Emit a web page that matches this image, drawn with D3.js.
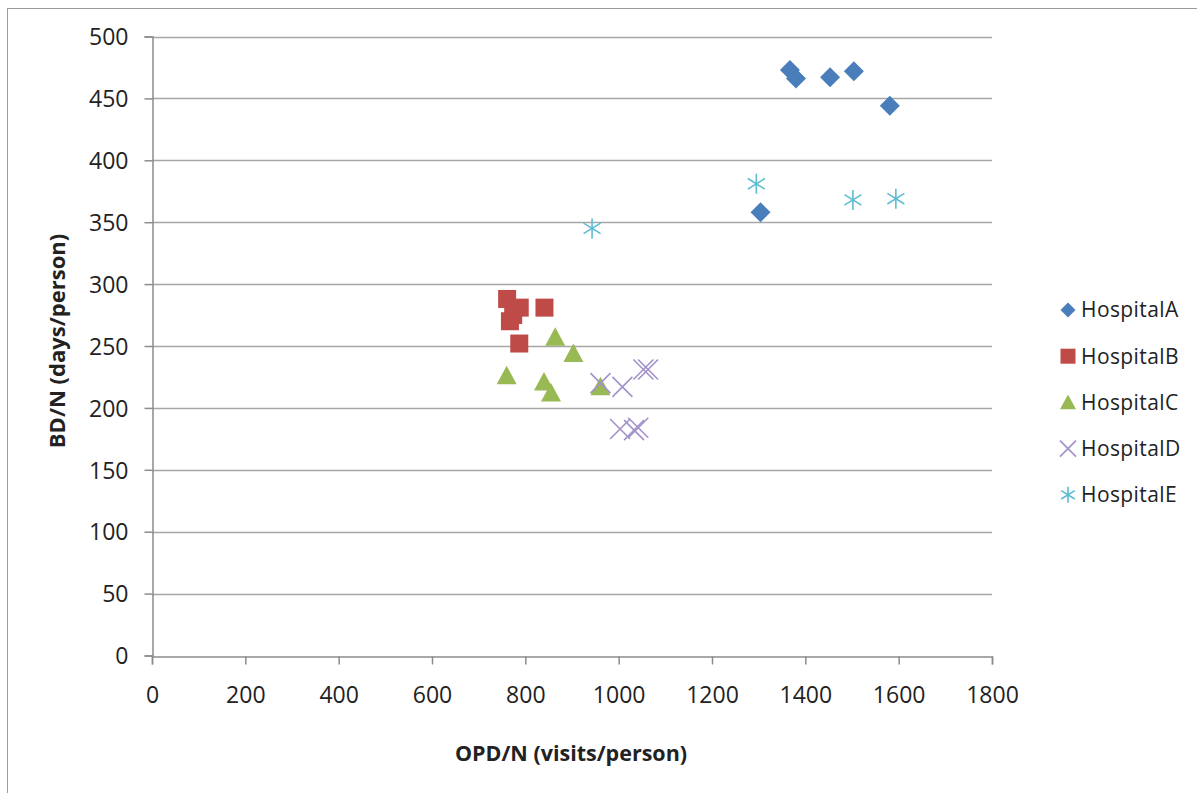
<!DOCTYPE html>
<html>
<head>
<meta charset="utf-8">
<script src="https://cdn.jsdelivr.net/npm/d3@7"></script>
<style>
  html, body { margin: 0; padding: 0; background: #fff; }
  svg { display: block; }
  text { font-family: "Open Sans", "Liberation Sans", sans-serif; fill: #222; }
</style>
</head>
<body>
<svg id="chart" width="1197" height="793"></svg>
<script>
// Hospital series: [OPD/N, BD/N]
const seriesNames = ["HospitalA", "HospitalB", "HospitalC", "HospitalD", "HospitalE"];
const hospitalA = [[1367, 473], [1380, 466], [1453, 467], [1504, 472], [1581, 444], [1304, 358]];
const hospitalB = [[761, 288], [788, 281], [841, 281], [774, 275], [767, 270], [787, 252]];
const hospitalC = [[864, 257], [903, 244], [760, 226], [840, 221], [855, 212], [961, 217]];
const hospitalD = [[961, 220], [1008, 217], [1053, 231], [1063, 231], [1003, 183], [1033, 182], [1042, 184]];
const hospitalE = [[943, 345], [1295, 381], [1502, 368], [1594, 369]];
const seriesColors = ["#4a7ebb", "#be4b48", "#98b954", "#a391c9", "#5cbcd2"];
const xTicks = [0, 200, 400, 600, 800, 1000, 1200, 1400, 1600, 1800];
const yTicks = [0, 50, 100, 150, 200, 250, 300, 350, 400, 450, 500];

const allSeries = [hospitalA, hospitalB, hospitalC, hospitalD, hospitalE];

const svg = d3.select("#chart");

// outer chart frame
svg.append("rect")
  .attr("x", 7.5).attr("y", 8.5).attr("width", 1200).attr("height", 800)
  .attr("fill", "none").attr("stroke", "#9a9a9a").attr("stroke-width", 1);

const x = d3.scaleLinear().domain([0, 1800]).range([152, 992]);
const y = d3.scaleLinear().domain([0, 500]).range([655.5, 36.5]);

// horizontal gridlines
svg.append("g")
  .selectAll("line")
  .data(yTicks.filter(v => v > 0))
  .join("line")
  .attr("x1", x(0)).attr("x2", x(1800))
  .attr("y1", d => Math.round(y(d)) + 0.5).attr("y2", d => Math.round(y(d)) + 0.5)
  .attr("stroke", "#a6a6a6").attr("stroke-width", 1.5);

// axes
const xAxis = svg.append("g")
  .attr("transform", `translate(0,${Math.round(y(0)) + 0.5})`)
  .call(d3.axisBottom(x).tickValues(xTicks).tickSize(8).tickPadding(22).tickFormat(d3.format("d")));
const yAxis = svg.append("g")
  .attr("transform", `translate(${x(0) + 0.5},0)`)
  .call(d3.axisLeft(y).tickValues(yTicks).tickSize(8).tickPadding(16).tickFormat(d3.format("d")));

[xAxis, yAxis].forEach(g => {
  g.select(".domain").attr("stroke", "#8c8c8c").attr("stroke-width", 1.5);
  g.selectAll(".tick line").attr("stroke", "#8c8c8c").attr("stroke-width", 1.5);
  g.selectAll(".tick text")
    .attr("fill", "#222")
    .style("font-family", '"Open Sans", sans-serif')
    .style("font-size", "23px");
});
yAxis.selectAll(".tick text").attr("dy", "0.36em");

// axis titles
svg.append("text")
  .attr("x", 571).attr("y", 761)
  .attr("text-anchor", "middle")
  .style("font-size", "21.5px").style("font-weight", "bold")
  .text("OPD/N (visits/person)");
svg.append("text")
  .attr("transform", "translate(65,341) rotate(-90)")
  .attr("text-anchor", "middle")
  .style("font-size", "22px").style("font-weight", "bold")
  .text("BD/N (days/person)");

// marker drawing
function drawMarker(g, kind, color, s) {
  const h = s / 2;
  if (kind === 0) {
    g.append("path").attr("d", `M0,${-h}L${h},0L0,${h}L${-h},0Z`).attr("fill", color);
  } else if (kind === 1) {
    g.append("rect").attr("x", -h).attr("y", -h).attr("width", s).attr("height", s).attr("fill", color);
  } else if (kind === 2) {
    g.append("path").attr("d", `M0,${-h}L${h},${h * 0.85}L${-h},${h * 0.85}Z`).attr("fill", color);
  } else if (kind === 3) {
    g.append("path").attr("d", `M${-h},${-h}L${h},${h}M${h},${-h}L${-h},${h}`)
      .attr("stroke", color).attr("stroke-width", 1.6).attr("fill", "none");
  } else {
    const k = h * 0.85;
    g.append("path").attr("d", `M0,${-h}L0,${h}M${-k},${-k * 0.62}L${k},${k * 0.62}M${k},${-k * 0.62}L${-k},${k * 0.62}`)
      .attr("stroke", color).attr("stroke-width", 1.6).attr("fill", "none");
  }
}

const markerSize = [20, 18, 20, 20, 20];
const legendSize = [15, 15, 16, 16, 16];

allSeries.forEach((data, i) => {
  const g = svg.append("g");
  g.selectAll("g")
    .data(data)
    .join("g")
    .attr("transform", d => `translate(${x(d[0])},${y(d[1])})`)
    .each(function () { drawMarker(d3.select(this), i, seriesColors[i], markerSize[i]); });
});

// legend
const legend = svg.append("g");
seriesNames.forEach((name, i) => {
  const row = legend.append("g").attr("transform", `translate(1068,${310 + i * 46.2})`);
  drawMarker(row, i, seriesColors[i], legendSize[i]);
  row.append("text")
    .attr("x", 13).attr("y", 0).attr("dy", "0.35em")
    .style("font-size", "21px")
    .style("letter-spacing", "0.4px")
    .text(name);
});
</script>
</body>
</html>
